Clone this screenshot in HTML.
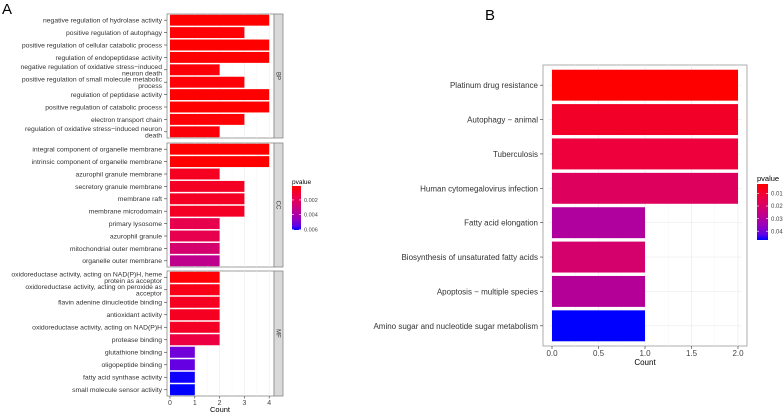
<!DOCTYPE html>
<html><head><meta charset="utf-8">
<style>
body{margin:0;background:#fff;}
svg{display:block;font-family:"Liberation Sans",Arial,sans-serif;}
</style></head>
<body>
<svg id="c" width="784" height="412" viewBox="0 0 784 412">
<text x="2" y="14" font-size="15" fill="#000">A</text>
<text x="485" y="20" font-size="15" fill="#000">B</text>
</svg>
<script>
// Panel A data
const aBPTerms=["negative regulation of hydrolase activity","positive regulation of autophagy","positive regulation of cellular catabolic process","regulation of endopeptidase activity","negative regulation of oxidative stress−induced|neuron death","positive regulation of small molecule metabolic|process","regulation of peptidase activity","positive regulation of catabolic process","electron transport chain","regulation of oxidative stress−induced neuron|death"];
const aBPCounts=[4,3,4,4,2,3,4,4,3,2];
const aBPPvals=[0.0001,0.0002,0.0001,0.0001,0.0003,0.0002,0.0001,0.0001,0.0002,0.0003];
const aCCTerms=["integral component of organelle membrane","intrinsic component of organelle membrane","azurophil granule membrane","secretory granule membrane","membrane raft","membrane microdomain","primary lysosome","azurophil granule","mitochondrial outer membrane","organelle outer membrane"];
const aCCCounts=[4,4,2,3,3,3,2,2,2,2];
const aCCPvals=[0.0001,0.0001,0.0008,0.0009,0.0009,0.0009,0.0018,0.0018,0.0026,0.0034];
const aMFTerms=["oxidoreductase activity, acting on NAD(P)H, heme|protein as acceptor","oxidoreductase activity, acting on peroxide as|acceptor","flavin adenine dinucleotide binding","antioxidant activity","oxidoreductase activity, acting on NAD(P)H","protease binding","glutathione binding","oligopeptide binding","fatty acid synthase activity","small molecule sensor activity"];
const aMFCounts=[2,2,2,2,2,2,1,1,1,1];
const aMFPvals=[0.0002,0.0006,0.0008,0.0008,0.0009,0.0015,0.0052,0.0054,0.0060,0.0061];
const aXTicks=[0,1,2,3,4];
const aLegendTicks=[0.002,0.004,0.006];
// Panel B data
const bTerms=["Platinum drug resistance","Autophagy − animal","Tuberculosis","Human cytomegalovirus infection","Fatty acid elongation","Biosynthesis of unsaturated fatty acids","Apoptosis − multiple species","Amino sugar and nucleotide sugar metabolism"];
const bCounts=[2,2,2,2,1,1,1,1];
const bPvals=[0.0025,0.009,0.012,0.018,0.030,0.021,0.029,0.047];
const bXTicks=[0,0.5,1,1.5,2];
const bLegendTicks=[0.01,0.02,0.03,0.04];

const NS="http://www.w3.org/2000/svg";
const svg=document.getElementById('c');
function mk(tag,attrs,parent){const e=document.createElementNS(NS,tag);for(const k in attrs)e.setAttribute(k,attrs[k]);(parent||svg).appendChild(e);return e;}
const cStops=[[0,255,0,0],[0.25,235,0,70],[0.5,200,0,128],[0.75,150,0,190],[0.9,95,0,230],[1,0,0,255]];
function col(p,lo,hi){let t=(p-lo)/(hi-lo);t=Math.max(0,Math.min(1,t));
  for(let i=1;i<cStops.length;i++){const a=cStops[i-1],b=cStops[i];if(t<=b[0]){const u=(t-a[0])/(b[0]-a[0]);
    return `rgb(${Math.round(a[1]+(b[1]-a[1])*u)},0,${Math.round(a[3]+(b[3]-a[3])*u)})`;}}
  return 'rgb(0,0,255)';}

// ---- Panel A ----
const aX0=170,aPx=24.8;const ax=v=>aX0+v*aPx;
const aLo=0.0001,aHi=0.0061;
const facets=[["BP",14,138,aBPTerms,aBPCounts,aBPPvals],["CC",143,267,aCCTerms,aCCCounts,aCCPvals],["MF",271,396,aMFTerms,aMFCounts,aMFPvals]];
facets.forEach(([name,top,bot,terms,counts,pv])=>{
  const bg=mk('rect',{x:167,y:top,width:107,height:bot-top,fill:'#fff',stroke:'#888','stroke-width':0.8});
  
  
  aXTicks.forEach(t=>{mk('line',{x1:ax(t),x2:ax(t),y1:top,y2:bot,stroke:'#ebebeb','stroke-width':0.6});
    if(t<4)mk('line',{x1:ax(t+0.5),x2:ax(t+0.5),y1:top,y2:bot,stroke:'#f4f4f4','stroke-width':0.4});});
  const strip=mk('rect',{x:274,y:top,width:9,height:bot-top,fill:'#d9d9d9',stroke:'#888','stroke-width':0.8});
  
  
  const st=mk('text',{x:0,y:0,'font-size':6,fill:'#333','text-anchor':'middle',transform:`translate(276.5,${(top+bot)/2}) rotate(90)`});st.textContent=name;
  const n=terms.length,step=(bot-top)/n;
  terms.forEach((term,i)=>{
    const cy=top+step*(i+0.5),h=step*0.88;
    const r=mk('rect',{x:ax(0),y:cy-h/2,width:ax(counts[i])-ax(0),height:h,fill:col(pv[i],aLo,aHi)});
    
    
    mk('line',{x1:164,x2:167,y1:cy,y2:cy,stroke:'#333','stroke-width':0.6});
    const parts=term.split('|');
    const tx=mk('text',{x:162,y:0,'font-size':6.8,fill:'#333','text-anchor':'end'});
    
    
    if(parts.length===1){tx.setAttribute('y',cy+2.4);tx.textContent=term;}
    else{tx.setAttribute('y',cy-0.8);tx.textContent=parts[0];
      const t2=mk('text',{x:162,y:cy+5.6,'font-size':6.8,fill:'#333','text-anchor':'end'});t2.textContent=parts[1];}
  });
});
aXTicks.forEach(t=>{mk('line',{x1:ax(t),x2:ax(t),y1:396,y2:398.5,stroke:'#333','stroke-width':0.6});
  const l=mk('text',{x:ax(t),y:405,'font-size':7,fill:'#444','text-anchor':'middle'});l.textContent=t;
  
  });
const axt=mk('text',{x:220,y:412,'font-size':7.5,fill:'#000','text-anchor':'middle'});axt.textContent='Count';


// Legend gradients
const defs=mk('defs',{});
function grad(id){const g=mk('linearGradient',{id:id,x1:0,y1:0,x2:0,y2:1},defs);
  cStops.forEach(s=>mk('stop',{offset:(s[0]*100)+'%','stop-color':`rgb(${s[1]},0,${s[3]})`},g));}
grad('ga');grad('gb');
const laT=186,laB=230;const ly=p=>laT+(p-aLo)/(aHi-aLo)*(laB-laT);
const lat=mk('text',{x:292,y:184,'font-size':6.5,fill:'#000'});lat.textContent='pvalue';


const lab=mk('rect',{x:292,y:laT,width:9,height:laB-laT,fill:'url(#ga)'});


aLegendTicks.forEach(t=>{const y=ly(t);mk('line',{x1:292,x2:294,y1:y,y2:y,stroke:'#fff','stroke-width':0.6});mk('line',{x1:299,x2:301,y1:y,y2:y,stroke:'#fff','stroke-width':0.6});
  const l=mk('text',{x:304,y:y+2,'font-size':5.5,fill:'#444'});l.textContent=t.toFixed(3);});

// ---- Panel B ----
const bX0=552,bPx=93;const bx=v=>bX0+v*bPx;
const bTop=65,bBot=346;
const bp=mk('rect',{x:543,y:bTop,width:204,height:bBot-bTop,fill:'#fff',stroke:'#999','stroke-width':0.8});


bXTicks.forEach((t,i)=>{mk('line',{x1:bx(t),x2:bx(t),y1:bTop,y2:bBot,stroke:'#ebebeb','stroke-width':0.7});
  if(i<bXTicks.length-1)mk('line',{x1:bx(t+0.25),x2:bx(t+0.25),y1:bTop,y2:bBot,stroke:'#f5f5f5','stroke-width':0.5});});
const bStep=(bBot-bTop-6)/bTerms.length;
bTerms.forEach((term,i)=>{
  const cy=bTop+3+bStep*(i+0.5),h=bStep*0.9;
  mk('line',{x1:bX0-4,x2:bx(2)+4,y1:cy,y2:cy,stroke:'#ebebeb','stroke-width':0.7});
  const r=mk('rect',{x:bx(0),y:cy-h/2,width:bx(bCounts[i])-bx(0),height:h,fill:col(bPvals[i],0.0025,0.047)});
  
  
  mk('line',{x1:540,x2:543,y1:cy,y2:cy,stroke:'#333','stroke-width':0.6});
  const l=mk('text',{x:538,y:cy+3,'font-size':8,fill:'#333','text-anchor':'end'});l.textContent=term;
  
  
});
bXTicks.forEach(t=>{mk('line',{x1:bx(t),x2:bx(t),y1:bBot,y2:bBot+3,stroke:'#333','stroke-width':0.6});
  const l=mk('text',{x:bx(t),y:356,'font-size':8,fill:'#444','text-anchor':'middle'});l.textContent=t.toFixed(1);
  
  });
const bxt=mk('text',{x:645,y:365,'font-size':8,fill:'#000','text-anchor':'middle'});bxt.textContent='Count';


const lbT=184,lbB=240,bLo=0.0025,bHi=0.047;const lby=p=>lbT+(p-bLo)/(bHi-bLo)*(lbB-lbT);
const lbt=mk('text',{x:757,y:181,'font-size':7.5,fill:'#000'});lbt.textContent='pvalue';


const lbb=mk('rect',{x:757,y:lbT,width:11,height:lbB-lbT,fill:'url(#gb)'});


bLegendTicks.forEach(t=>{const y=lby(t);mk('line',{x1:757,x2:759,y1:y,y2:y,stroke:'#fff','stroke-width':0.6});mk('line',{x1:766,x2:768,y1:y,y2:y,stroke:'#fff','stroke-width':0.6});
  const l=mk('text',{x:771,y:y+2.2,'font-size':6,fill:'#444'});l.textContent=t.toFixed(2);});
</script>
</body></html>
